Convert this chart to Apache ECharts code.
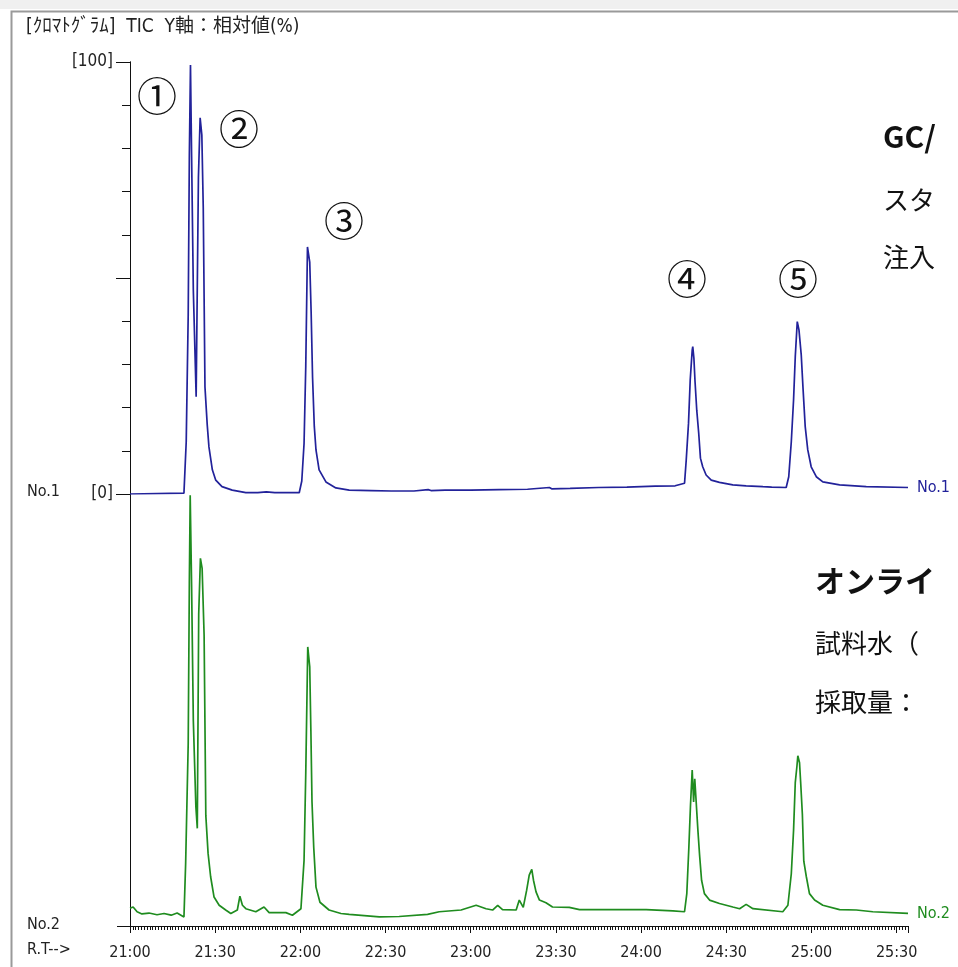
<!DOCTYPE html>
<html><head><meta charset="utf-8">
<script src="https://cdn.jsdelivr.net/npm/echarts@6/dist/echarts.min.js"></script>
<style>html,body{margin:0;padding:0;background:#fff;}#c{width:958px;height:967px;}</style>
</head><body><div id="c"></div>
<script>
// Retention time in seconds (21:00 = 1260 s), intensity in relative %
const timesNo1 = [1260,1279.0,1279.8,1280.5,1280.9,1281.3,1281.7,1282.3,1283.3,1284.1,1284.7,1285.3,1285.8,1286.4,1287.2,1287.8,1289.0,1290.2,1292.4,1296.0,1300.8,1305,1308,1311,1319.6,1320.5,1321.3,1321.9,1322.5,1323.3,1323.8,1324.3,1324.9,1325.5,1326.6,1329.0,1332.5,1337.2,1345,1352,1360,1365,1366,1371,1380,1390,1400,1407.7,1408.5,1415,1425,1435,1445,1452,1455.3,1455.9,1456.7,1457.3,1458.0,1458.2,1458.6,1459.0,1459.6,1460.3,1460.9,1461.7,1462.9,1464.7,1467.6,1472.3,1477,1477.5,1482.9,1486,1486.5,1491.1,1492.0,1492.9,1493.7,1494.3,1495.0,1495.6,1496.4,1497.0,1497.8,1498.7,1499.9,1501.7,1504.0,1509.9,1519.3,1534];
const valuesNo1 = [0,0.2,12.1,41.4,78.3,99.3,78.1,47.2,22.5,73.4,87.1,83.1,66.2,24.8,16.0,10.9,5.6,3.2,1.7,0.9,0.3,0.3,0.5,0.3,0.3,3.0,11.7,29.5,57.2,53.7,41.9,26.9,15.7,10.2,5.6,2.8,1.4,0.9,0.8,0.7,0.7,1.0,0.8,0.9,0.9,1.0,1.1,1.5,1.2,1.3,1.5,1.6,1.8,1.9,2.5,7.9,16.4,26.4,33.3,34.1,31.4,26.0,19.4,14.0,8.3,6.3,4.4,3.2,2.7,2.1,1.9,2.3,1.7,1.6,1.9,1.5,4.0,12.1,21.8,31.8,39.9,38.0,32.2,24.8,15.6,10.2,6.3,4.0,2.8,2.1,1.7,1.5];

const timesNo2 = [1260,1261.1,1262.5,1264.2,1266.7,1269.5,1272.0,1274.5,1276.6,1279.0,1279.6,1280.5,1280.9,1281.2,1281.7,1282.3,1283.2,1283.7,1284.2,1284.8,1285.4,1286.1,1286.7,1287.5,1288.4,1289.6,1291.4,1293.7,1295.5,1297.8,1298.7,1299.6,1300.8,1304.3,1307.2,1309.0,1314.9,1317.2,1320.2,1321.3,1321.9,1322.6,1323.3,1323.7,1324.1,1324.7,1325.5,1326.9,1330.1,1334.3,1337.2,1347.8,1354.8,1364.8,1368.9,1376.6,1381.9,1385.4,1387.7,1389.5,1391.2,1396.0,1397.1,1398.5,1399.7,1400.6,1401.5,1402.1,1403.0,1404.2,1406.5,1408.8,1414.7,1418.3,1430.0,1441.8,1451.2,1455.3,1456.1,1456.8,1457.4,1458.0,1458.5,1458.9,1459.4,1460.0,1460.6,1461.3,1462.3,1464.1,1467.6,1472.3,1474.7,1477.0,1479.4,1489.9,1491.7,1492.9,1493.7,1494.3,1494.9,1495.2,1495.8,1496.2,1496.8,1497.3,1498.2,1499.3,1501.1,1504.0,1509.9,1515.8,1521.6,1534];
const valuesNo2 = [1.6,1.9,0.8,0.3,0.5,0.1,0.4,0.0,0.5,-0.4,12.0,39.7,77.0,97.2,76.0,45.1,25.1,20.1,69.8,82.6,80.3,64.8,23.1,14.3,8.9,4.2,2.3,1.2,0.4,1.2,4.4,2.3,1.5,0.8,1.9,0.6,0.6,0.0,1.5,12.7,32.8,62.1,57.5,42.8,26.2,15.8,6.5,3.0,1.2,0.4,0.2,-0.4,-0.3,0.2,0.8,1.2,2.3,1.5,1.2,2.3,1.3,1.2,3.5,1.8,5.8,9.3,10.6,8.1,5.4,3.5,2.9,1.9,1.8,1.3,1.3,1.3,1.0,0.8,5.0,15.4,25.5,33.6,26.2,31.6,26.2,19.7,13.9,8.1,5.0,3.5,2.7,1.9,1.5,2.5,1.5,0.8,2.3,9.6,19.7,30.7,34.6,36.9,35.3,30.7,23.3,12.5,8.9,5.0,3.5,2.3,1.3,1.2,0.8,0.4];

const xTickLabels = ['21:00','21:30','22:00','22:30','23:00','23:30','24:00','24:30','25:00','25:30'];
const peakMarks = ['①','②','③','④','⑤'];

const NARROW = "'DejaVu Sans Condensed','Liberation Sans Narrow','Noto Sans CJK JP',sans-serif";
const JP = "'Noto Sans CJK JP','Noto Sans',sans-serif";
const BLUE = '#22229a';
const GREEN = '#1f8c1f';

const zip = (t, v) => t.map((x, i) => [x, v[i]]);

const chart = echarts.init(document.getElementById('c'), null, {renderer: 'canvas'});

const txt = (x, y, s, size) => ({
  type: 'text', left: x, top: y,
  style: {text: s, font: size + 'px ' + NARROW, fill: '#222'}
});

const option = {
  animation: false,
  backgroundColor: '#fff',
  grid: [
    {left: 130, top: 62, width: 778, height: 432},
    {left: 130, top: 494, width: 778, height: 432}
  ],
  xAxis: [
    {gridIndex: 0, type: 'value', min: 1260, max: 1534, show: false},
    {gridIndex: 1, type: 'value', min: 1260, max: 1534, interval: 30,
     axisLine: {show: true, onZero: false, lineStyle: {color: '#111', width: 1}},
     axisTick: {show: true, length: 7, lineStyle: {color: '#111'}},
     minorTick: {show: true, splitNumber: 30, length: 4, lineStyle: {color: '#111'}},
     splitLine: {show: false}, minorSplitLine: {show: false},
     axisLabel: {margin: 19, color: '#222', fontSize: 16, fontFamily: NARROW, showMaxLabel: false,
       formatter: v => { const i = Math.round((v - 1260) / 30); return (Math.abs(v - 1260 - i * 30) < 0.01 && xTickLabels[i]) ? xTickLabels[i] : ''; }}
    }
  ],
  yAxis: [
    {gridIndex: 0, type: 'value', position: 'left', min: 0, max: 100, interval: 10,
     axisLine: {show: true, onZero: false, lineStyle: {color: '#111'}},
     axisTick: {show: true, length: 8, lineStyle: {color: '#111'}},
     axisLabel: {show: false}, splitLine: {show: false}},
    {gridIndex: 0, type: 'value', position: 'left', offset: 0, min: 0, max: 100,
     axisLine: {show: true, onZero: false, lineStyle: {color: '#111'}},
     axisTick: {show: true, length: 14, customValues: [0, 50, 100], lineStyle: {color: '#111'}},
     axisLabel: {show: true, customValues: [0, 100], margin: 17, color: '#222', fontSize: 17, fontFamily: NARROW,
       formatter: v => '[' + v + ']'},
     splitLine: {show: false}},
    {gridIndex: 1, type: 'value', position: 'left', min: -2.5, max: 97.5,
     axisLine: {show: true, onZero: false, lineStyle: {color: '#111'}},
     axisTick: {show: true, length: 13, customValues: [-2.5], lineStyle: {color: '#111'}},
     axisLabel: {show: false}, splitLine: {show: false}}
  ],
  series: [
    {type: 'line', name: 'No.1', xAxisIndex: 0, yAxisIndex: 0, data: zip(timesNo1, valuesNo1),
     showSymbol: false, lineStyle: {color: BLUE, width: 1.7}, itemStyle: {color: BLUE},
     endLabel: {show: true, formatter: 'No.1', color: BLUE, fontSize: 16, fontFamily: NARROW, distance: 9}},
    {type: 'line', name: 'No.2', xAxisIndex: 1, yAxisIndex: 2, data: zip(timesNo2, valuesNo2),
     showSymbol: false, lineStyle: {color: GREEN, width: 1.7}, itemStyle: {color: GREEN},
     endLabel: {show: true, formatter: 'No.2', color: GREEN, fontSize: 16, fontFamily: NARROW, distance: 9}}
  ],
  graphic: [
    {type: 'rect', left: 0, top: 0, z: -1, shape: {width: 958, height: 9}, style: {fill: '#f0f0f0'}},
    {type: 'rect', left: 9, top: 9, z: -1, shape: {width: 960, height: 970}, style: {fill: 'none', stroke: '#9a9a9a', lineWidth: 2}},
    txt(26, 18, '[ｸﾛﾏﾄｸﾞﾗﾑ]  TIC  Y軸：相対値(%)', 19),
    txt(27, 484, 'No.1', 16),
    txt(27, 917, 'No.2', 16),
    txt(27, 942, 'R.T-->', 16),
    {type: 'text', left: 137, top: 76, style: {text: peakMarks[0], font: '40px ' + JP, fill: '#111'}},
    {type: 'text', left: 219, top: 109, style: {text: peakMarks[1], font: '40px ' + JP, fill: '#111'}},
    {type: 'text', left: 324, top: 201, style: {text: peakMarks[2], font: '40px ' + JP, fill: '#111'}},
    {type: 'text', left: 667, top: 259, style: {text: peakMarks[3], font: '40px ' + JP, fill: '#111'}},
    {type: 'text', left: 778, top: 259, style: {text: peakMarks[4], font: '40px ' + JP, fill: '#111'}},
    {type: 'text', left: 883, top: 122, style: {text: 'GC/', font: 'bold 30px ' + JP, fill: '#111'}},
    {type: 'text', left: 883, top: 187, style: {text: 'スタ', font: '26px ' + JP, fill: '#111'}},
    {type: 'text', left: 883, top: 244, style: {text: '注入', font: '26px ' + JP, fill: '#111'}},
    {type: 'text', left: 815, top: 566, style: {text: 'オンライ', font: 'bold 30px ' + JP, fill: '#111'}},
    {type: 'text', left: 815, top: 630, style: {text: '試料水（', font: '26px ' + JP, fill: '#111'}},
    {type: 'text', left: 815, top: 689, style: {text: '採取量：', font: '26px ' + JP, fill: '#111'}}
  ]
};
chart.setOption(option);
</script></body></html>
